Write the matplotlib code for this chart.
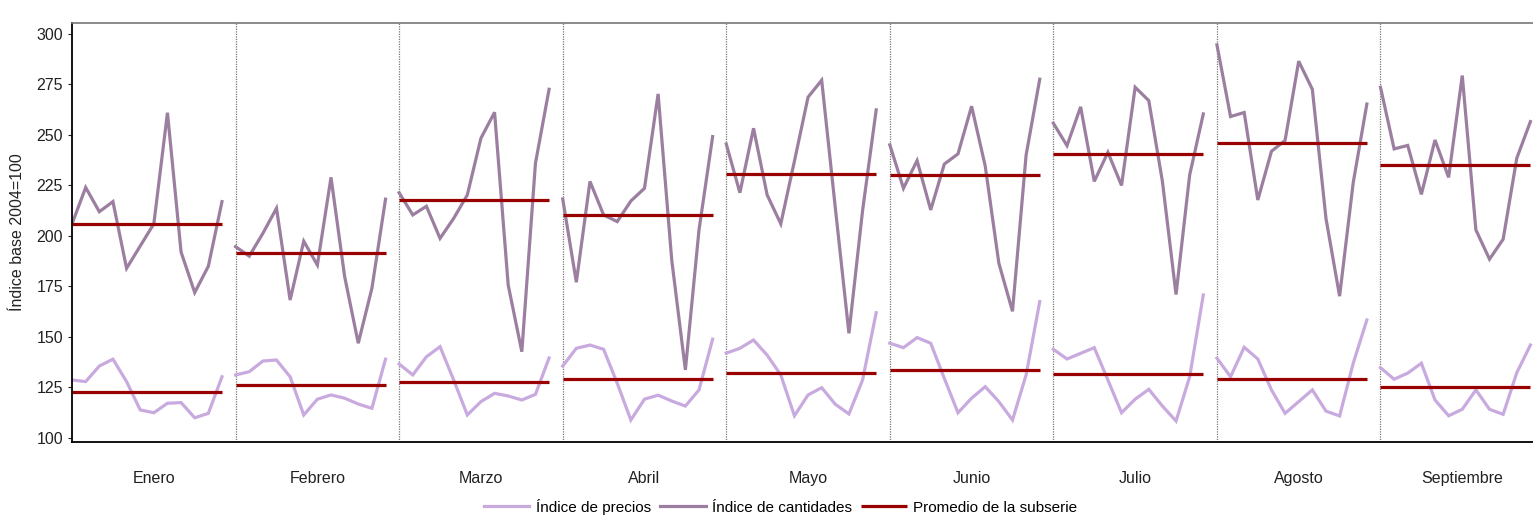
import numpy as np
import matplotlib
matplotlib.use("Agg")
import matplotlib.pyplot as plt

# Meses (subseries) y años dentro de cada mes
meses = ["Enero", "Febrero", "Marzo", "Abril", "Mayo", "Junio",
         "Julio", "Agosto", "Septiembre"]

# Índice de precios por mes (12 observaciones anuales)
precios = [
    [128.7, 127.9, 135.6, 139.0, 127.9, 113.9, 112.5, 117.2, 117.5, 110.0, 112.2, 130.3],
    [131.2, 132.8, 138.1, 138.6, 130.3, 111.4, 119.2, 121.3, 119.7, 116.8, 114.7, 139.0],
    [136.6, 131.2, 140.2, 145.2, 128.7, 111.4, 118.0, 122.1, 120.8, 118.8, 121.6, 139.6],
    [135.6, 144.4, 146.0, 143.9, 127.1, 108.9, 119.2, 121.2, 118.3, 115.8, 123.8, 148.9],
    [142.0, 144.4, 148.5, 141.0, 131.2, 111.0, 121.3, 124.9, 116.7, 111.9, 128.7, 162.0],
    [146.9, 144.7, 149.7, 146.9, 129.5, 112.5, 119.7, 125.4, 118.0, 108.9, 131.2, 167.5],
    [143.9, 139.1, 141.9, 144.7, 128.7, 112.5, 119.2, 124.1, 115.8, 108.4, 130.3, 170.8],
    [139.5, 130.3, 144.9, 139.1, 123.8, 112.2, 118.0, 123.8, 113.3, 110.9, 137.0, 158.4],
    [134.8, 129.1, 132.1, 137.0, 118.8, 111.0, 114.2, 123.8, 114.2, 111.7, 132.3, 146.0],
]

# Índice de cantidades por mes
cantidades = [
    [206.0, 224.0, 212.0, 217.0, 184.0, 195.0, 206.0, 261.0, 192.0, 172.0, 185.0, 217.0],
    [194.7, 190.0, 201.3, 213.7, 168.3, 197.4, 185.6, 229.0, 179.9, 146.9, 174.1, 218.2],
    [221.4, 210.4, 214.7, 198.8, 208.7, 220.3, 248.4, 261.2, 175.7, 142.7, 236.0, 272.6],
    [218.3, 177.1, 227.0, 210.4, 207.1, 217.3, 223.6, 270.3, 188.0, 133.7, 203.0, 249.2],
    [245.5, 221.4, 253.3, 220.3, 206.0, 237.0, 268.7, 277.1, 214.0, 151.8, 212.5, 262.4],
    [245.1, 223.6, 237.3, 212.9, 235.6, 240.6, 264.2, 234.6, 186.5, 162.7, 240.1, 277.6],
    [255.8, 244.7, 263.9, 227.0, 241.4, 225.0, 273.6, 267.0, 227.0, 171.0, 230.2, 260.4],
    [294.6, 259.1, 261.1, 217.8, 241.9, 247.3, 286.5, 272.6, 208.7, 170.2, 226.4, 265.3],
    [273.6, 243.1, 244.8, 220.6, 247.5, 229.0, 279.4, 203.0, 188.5, 198.4, 238.5, 256.6],
]

color_precios = "#c9aadf"
color_cantidades = "#9c7fa0"
color_promedio = "#990000"

plt.rcParams["font.family"] = ["Liberation Sans Narrow", "Liberation Sans", "DejaVu Sans"]

fig = plt.figure(figsize=(15.33, 5.15), dpi=100)
ax = fig.add_axes([0.047, 0.1417, 0.9602, 0.8136])

n = 12
for m, mes in enumerate(meses):
    x = np.arange(n) + m * n
    p = np.array(precios[m])
    q = np.array(cantidades[m])
    ax.plot(x, p, color=color_precios, lw=2.3, solid_joinstyle="miter",
            label="Índice de precios" if m == 0 else None)
    ax.plot(x, q, color=color_cantidades, lw=2.3, solid_joinstyle="miter",
            label="Índice de cantidades" if m == 0 else None)
    # promedio de cada subserie
    ax.hlines(p.mean(), x[0], x[-1], color=color_promedio, lw=2.3,
              label="Promedio de la subserie" if m == 0 else None)
    ax.hlines(q.mean(), x[0], x[-1], color=color_promedio, lw=2.3)
    if m > 0:
        ax.axvline(m * n, color="#777777", lw=0.9, ls=(0, (1, 1)), zorder=0)

ax.set_xlim(0, 108)
ax.set_ylim(98, 305.4)
ax.set_yticks(np.arange(100, 301, 25))
ax.set_xticks(np.arange(len(meses)) * n + 6)
ax.set_xticklabels(meses)
ax.tick_params(axis="x", length=0, pad=21, labelsize=11.5, colors="#222222")
ax.tick_params(axis="y", length=3, width=0.8, direction="out", labelsize=11.5, colors="#222222")
ax.set_ylabel("Índice base 2004=100", fontsize=11.5, color="#222222", labelpad=8)

for s in ["left", "bottom"]:
    ax.spines[s].set_color("black")
    ax.spines[s].set_linewidth(1.3)
ax.spines["top"].set_color("#777777")
ax.spines["top"].set_linewidth(1.2)
ax.spines["right"].set_visible(False)

fig.legend(loc="lower center", bbox_to_anchor=(0.509, -0.026), ncol=3,
           frameon=False, fontsize=11, handlelength=3, columnspacing=0.6,
           handletextpad=0.4)

fig.savefig("out.png", dpi=100)
